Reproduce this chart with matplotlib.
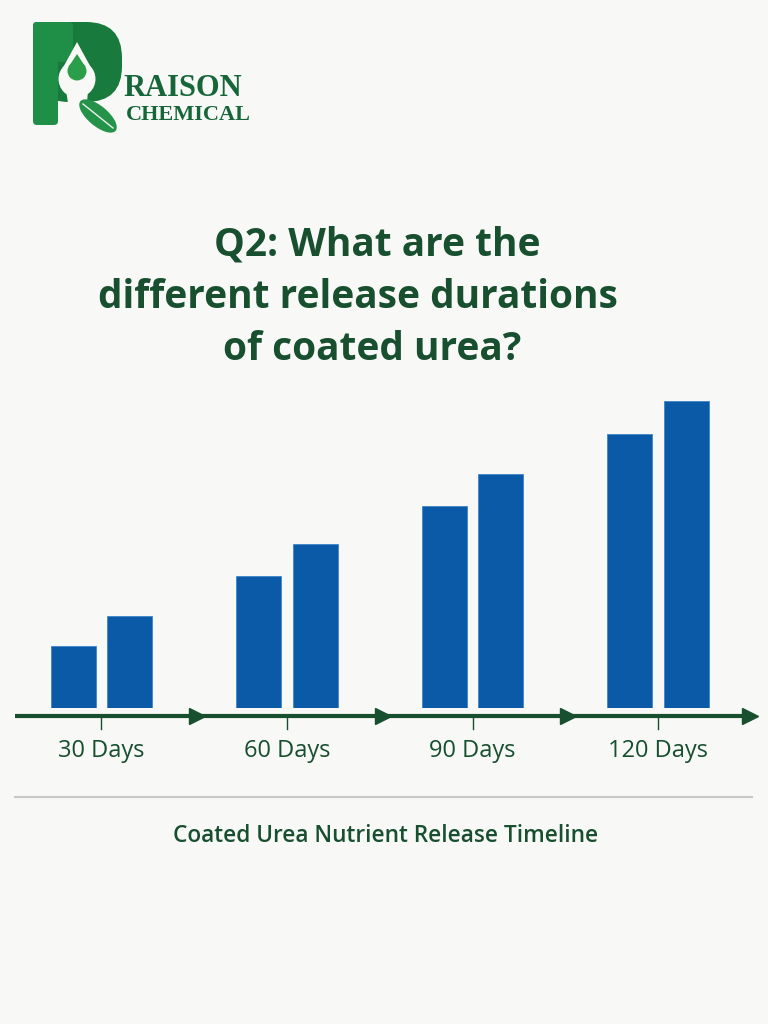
import matplotlib
matplotlib.use("Agg")
import matplotlib.pyplot as plt
from matplotlib.patches import FancyBboxPatch, Polygon, Circle, Ellipse
import numpy as np

# ---- data ----
categories = ["30 Days", "60 Days", "90 Days", "120 Days"]
series_a = [62, 132, 202, 274]
series_b = [92, 164, 234, 307]
title_lines = ["Q2: What are the", "different release durations", "of coated urea?"]
subtitle = "Coated Urea Nutrient Release Timeline"

BG = "#f8f8f6"
GREEN = "#174f2f"
BLUE = "#0a5aa8"

W, H = 768, 1024
fig = plt.figure(figsize=(W / 100, H / 100), dpi=100, facecolor=BG)

def px_rect(x0, y0, x1, y1):
    return [x0 / W, 1 - y1 / H, (x1 - x0) / W, (y1 - y0) / H]

# overlay for decorations (pixel coordinates)
ov = fig.add_axes([0, 0, 1, 1])
ov.set_xlim(0, W)
ov.set_ylim(H, 0)
ov.axis("off")
ov.set_facecolor(BG)

# ---- logo ----
ov.add_patch(FancyBboxPatch((33, 22), 89, 80, boxstyle="round,pad=0,rounding_size=36",
                            fc="#187a3c", ec="none"))
ov.add_patch(FancyBboxPatch((33, 22), 25, 103, boxstyle="round,pad=0,rounding_size=4",
                            fc="#1f8e47", ec="none"))
ov.add_patch(FancyBboxPatch((33, 22), 40, 40, boxstyle="round,pad=0,rounding_size=4",
                            fc="#1f8e47", ec="none"))
# white teardrop
ov.add_patch(Circle((77, 79), 18.5, fc=BG, ec="none"))
ov.add_patch(Polygon([[77, 42], [59.5, 74], [94.5, 74]], closed=True, fc=BG, ec="none"))
ov.add_patch(Polygon([[66, 90], [88, 90], [87, 103], [68, 103]], closed=True, fc=BG, ec="none"))
# inner green drop
ov.add_patch(Circle((77, 71), 9.5, fc="#2b9e4b", ec="none"))
ov.add_patch(Polygon([[77, 54], [68.5, 67], [85.5, 67]], closed=True, fc="#2b9e4b", ec="none"))
# leaf
ov.add_patch(Ellipse((98, 116), 46, 20, angle=40, fc="#25924a", ec="none"))
ov.plot([83, 113], [104, 128], color="#e8f2ea", lw=1.0)
ov.text(123, 88, "RAISON", fontsize=22, family="Liberation Serif", weight="bold",
        color="#17663a", va="center", ha="left")
ov.text(126, 115, "CHEMICAL", fontsize=16, family="Liberation Serif", weight="bold",
        color="#17663a", va="center", ha="left")

# ---- title ----
ys = [245, 297, 349]
xs = [377, 358, 372]
for ln, y, x in zip(title_lines, ys, xs):
    ov.text(x, y, ln, fontsize=28, family="Open Sans", weight="bold", color=GREEN,
            ha="center", va="center")

# separator + subtitle
ov.plot([15, 752], [797, 797], color="#c8c8c6", lw=1.5)
ov.text(386, 836, subtitle, fontsize=16.3, family="Open Sans", weight="semibold",
        color=GREEN, ha="center", va="center")

# ---- bar chart ----
ax = fig.add_axes(px_rect(0, 388, W, 708))
ax.set_facecolor("none")
spacing = 185.5
x0 = 101.5
ax.set_xlim(-x0 / spacing, (W - x0) / spacing)
ax.set_ylim(0, 320)
x = np.arange(len(categories))
bw = 45 / spacing
off = 28.25 / spacing
ax.bar(x - off, series_a, width=bw, color=BLUE, edgecolor="#3f86c8", linewidth=0.6)
ax.bar(x + off, series_b, width=bw, color=BLUE, edgecolor="#3f86c8", linewidth=0.6)
for s in ax.spines.values():
    s.set_visible(False)
ax.set_xticks([])
ax.set_yticks([])

# timeline arrow
yl = -8
ax.plot([(15 - x0) / spacing, (752 - x0) / spacing], [yl, yl], color=GREEN, lw=3,
        clip_on=False, solid_capstyle="butt")
arrow_x = [(197 - x0) / spacing + i for i in range(3)] + [(750 - x0) / spacing]
ax.plot(arrow_x, [yl] * 4, linestyle="none", marker=">", markersize=12,
        color=GREEN, clip_on=False)
for xi, lab in zip(x, categories):
    ax.plot([xi, xi], [yl, yl - 13], color=GREEN, lw=1, clip_on=False)
    ax.text(xi, -43, lab, fontsize=17, family="Open Sans", weight="medium", color=GREEN,
            ha="center", va="center")

fig.savefig("out.png", dpi=100, facecolor=BG)
